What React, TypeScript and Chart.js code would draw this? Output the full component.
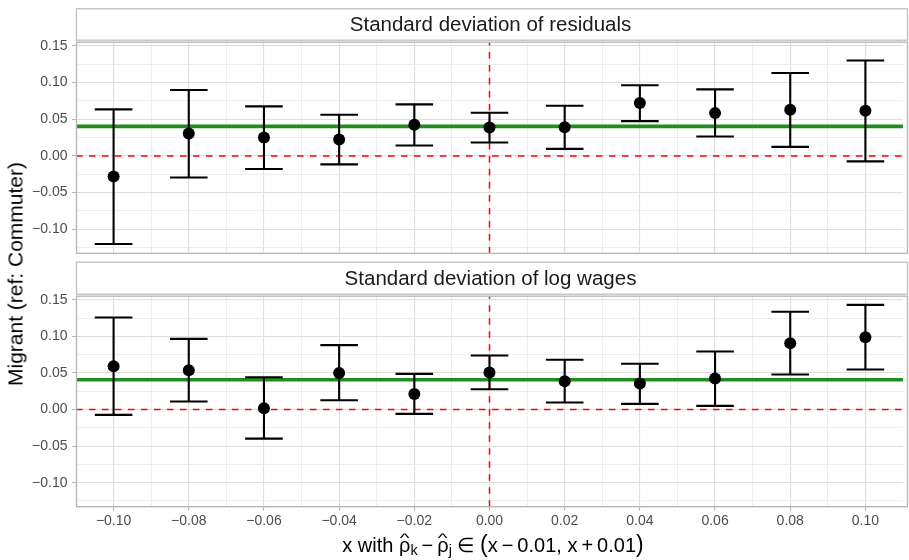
import React, { useEffect, useRef } from 'react';
import { Chart, registerables } from 'chart.js';

Chart.register(...registerables);

// ---------------- data ----------------
const xValues = [-0.10, -0.08, -0.06, -0.04, -0.02, 0.00, 0.02, 0.04, 0.06, 0.08, 0.10];

const residEst = [-0.0279, 0.0305, 0.0250, 0.0223, 0.0424, 0.0387, 0.0391, 0.0720, 0.0583, 0.0629, 0.0616];
const residLow = [-0.1200, -0.0293, -0.0178, -0.0115, 0.0141, 0.0182, 0.0096, 0.0474, 0.0264, 0.0123, -0.0074];
const residHigh = [0.0634, 0.0898, 0.0675, 0.0561, 0.0702, 0.0588, 0.0684, 0.0962, 0.0907, 0.1130, 0.1300];

const wageEst = [0.0592, 0.0538, 0.0018, 0.0501, 0.0214, 0.0506, 0.0388, 0.0356, 0.0424, 0.0907, 0.0989];
const wageLow = [-0.0073, 0.0109, -0.0397, 0.0128, -0.0059, 0.0278, 0.0096, 0.0078, 0.0050, 0.0479, 0.0547];
const wageHigh = [0.1258, 0.0966, 0.0442, 0.0880, 0.0488, 0.0739, 0.0680, 0.0625, 0.0793, 0.1336, 0.1431];

const panelTitles = ['Standard deviation of residuals', 'Standard deviation of log wages'];
const meanLines = [0.0402, 0.0408];

const yMajorTicks = [-0.10, -0.05, 0.00, 0.05, 0.10, 0.15];
const yMinorTicks = [-0.125, -0.075, -0.025, 0.025, 0.075, 0.125];
const xMajorTicks = [-0.10, -0.08, -0.06, -0.04, -0.02, 0.00, 0.02, 0.04, 0.06, 0.08, 0.10];
const xMinorTicks = [-0.09, -0.07, -0.05, -0.03, -0.01, 0.01, 0.03, 0.05, 0.07, 0.09];

const X_MIN = -0.11;
const X_MAX = 0.11;
const Y_MIN = -0.1328;
const Y_MAX = 0.1556;
const CAP_HALF = 0.005;

const FONT = '"Liberation Sans", Arial, Helvetica, sans-serif';

// ---------------- helpers ----------------
const isMajorX = (v: number) => {
  const k = Math.round(v * 100);
  return Math.abs(v * 100 - k) < 1e-6 && k % 2 === 0;
};
const isMajorY = (v: number) => {
  const k = Math.round(v * 1000);
  return Math.abs(v * 1000 - k) < 1e-6 && k % 50 === 0;
};
const fmt = (v: number) => {
  const s = Math.abs(v).toFixed(2);
  return v < -1e-9 ? '\u2212' + s : s;
};

type PanelProps = {
  est: number[];
  low: number[];
  high: number[];
  mean: number;
  title: string;
  showXAxis: boolean;
  height: number;
  stripTop: number;
  plotTop: number;
  bottomSpace: number;
};

function PanelChart(props: PanelProps) {
  const ref = useRef<HTMLCanvasElement>(null);

  useEffect(() => {
    const canvas = ref.current;
    if (!canvas) return;
    const { est, low, high, mean, title, showXAxis, stripTop, plotTop, bottomSpace } = props;
    const xAxisHeight = showXAxis ? bottomSpace : 0;
    const bottomPad = showXAxis ? 0 : bottomSpace;

    const errorBars = {
      id: 'errorBars',
      beforeDatasetDraw(chart: any, args: any) {
        if (args.index !== 3) return;
        const { ctx, chartArea, scales } = chart;
        const xs = scales.x;
        const ys = scales.y;
        ctx.save();
        ctx.beginPath();
        ctx.rect(chartArea.left, chartArea.top, chartArea.right - chartArea.left, chartArea.bottom - chartArea.top);
        ctx.clip();
        ctx.strokeStyle = '#000000';
        ctx.lineWidth = 2.1;
        ctx.lineCap = 'butt';
        xValues.forEach((xv, i) => {
          const px = xs.getPixelForValue(xv);
          const c0 = xs.getPixelForValue(xv - CAP_HALF);
          const c1 = xs.getPixelForValue(xv + CAP_HALF);
          const pl = ys.getPixelForValue(low[i]);
          const ph = ys.getPixelForValue(high[i]);
          ctx.beginPath();
          ctx.moveTo(px, pl);
          ctx.lineTo(px, ph);
          ctx.moveTo(c0, pl);
          ctx.lineTo(c1, pl);
          ctx.moveTo(c0, ph);
          ctx.lineTo(c1, ph);
          ctx.stroke();
        });
        ctx.restore();
      },
    };

    const frame = {
      id: 'frame',
      beforeDraw(chart: any) {
        const { ctx, width, height: h } = chart;
        ctx.save();
        ctx.fillStyle = '#ffffff';
        ctx.fillRect(0, 0, width, h);
        ctx.restore();
      },
      afterDraw(chart: any) {
        const { ctx, chartArea } = chart;
        const { left, right, top, bottom } = chartArea;
        ctx.save();
        // strip
        ctx.fillStyle = '#ffffff';
        ctx.fillRect(left, stripTop, right - left, top - stripTop);
        ctx.strokeStyle = '#C0C0C0';
        ctx.lineWidth = 1.3;
        ctx.strokeRect(left + 0.5, stripTop + 0.5, right - left + 4, top - stripTop - 2);
        ctx.fillStyle = '#1A1A1A';
        ctx.font = '20.5px ' + FONT;
        ctx.textAlign = 'center';
        ctx.textBaseline = 'middle';
        ctx.fillText(title, (left + right) / 2 + 1, (stripTop + top) / 2 + 0.5);
        // panel border
        ctx.strokeStyle = '#B8B8B8';
        ctx.lineWidth = 1.4;
        ctx.strokeRect(left + 0.5, top + 0.5, right - left + 4, bottom - top - 0.5);
        ctx.restore();
      },
    };

    const chart = new Chart(canvas, {
      type: 'scatter',
      data: {
        datasets: [
          {
            type: 'line',
            data: [{ x: X_MIN, y: 0 }, { x: X_MAX, y: 0 }],
            borderColor: '#FF0000',
            borderWidth: 1.5,
            borderDash: [6.5, 6.5],
            pointRadius: 0,
            order: 4,
          } as any,
          {
            type: 'line',
            data: [{ x: 0, y: Y_MIN }, { x: 0, y: Y_MAX }],
            borderColor: '#FF0000',
            borderWidth: 1.5,
            borderDash: [6.5, 6.5],
            pointRadius: 0,
            order: 3,
          } as any,
          {
            type: 'line',
            data: [{ x: X_MIN, y: mean }, { x: X_MAX, y: mean }],
            borderColor: '#228B22',
            borderWidth: 3.6,
            pointRadius: 0,
            order: 2,
          } as any,
          {
            type: 'scatter',
            data: xValues.map((x, i) => ({ x, y: est[i] })),
            backgroundColor: '#000000',
            borderColor: '#000000',
            borderWidth: 0,
            pointRadius: 6,
            order: 1,
          } as any,
        ],
      },
      options: {
        animation: false,
        responsive: false,
        maintainAspectRatio: false,
        events: [],
        layout: { padding: { top: plotTop, bottom: bottomPad, left: 0, right: 0 } },
        plugins: {
          legend: { display: false },
          tooltip: { enabled: false },
          title: { display: false },
        },
        scales: {
          x: {
            type: 'linear',
            min: X_MIN,
            max: X_MAX,
            afterBuildTicks: (s: any) => {
              s.ticks = [...xMajorTicks, ...xMinorTicks].sort((a, b) => a - b).map((v) => ({ value: v }));
            },
            afterFit: (s: any) => {
              s.height = xAxisHeight;
              s.paddingLeft = 0;
              s.paddingRight = 0;
              s.paddingTop = 0;
              s.paddingBottom = 0;
            },
            border: { display: false },
            grid: {
              color: (c: any) => (c.tick && isMajorX(c.tick.value) ? '#DEDEDE' : '#E8E8E8'),
              lineWidth: (c: any) => (c.tick && isMajorX(c.tick.value) ? 1.1 : 0.8),
              drawTicks: showXAxis,
              tickLength: 4,
              tickWidth: 1,
              tickColor: (c: any) => (c.tick && isMajorX(c.tick.value) ? '#B3B3B3' : 'rgba(0,0,0,0)'),
            },
            ticks: {
              display: showXAxis,
              autoSkip: false,
              maxRotation: 0,
              minRotation: 0,
              padding: 2,
              color: '#4D4D4D',
              font: { size: 14, family: FONT },
              callback: (v: any) => (isMajorX(Number(v)) ? fmt(Number(v)) : ''),
            },
          },
          y: {
            type: 'linear',
            min: Y_MIN,
            max: Y_MAX,
            afterBuildTicks: (s: any) => {
              s.ticks = [...yMajorTicks, ...yMinorTicks].sort((a, b) => a - b).map((v) => ({ value: v }));
            },
            afterFit: (s: any) => {
              s.width = 76;
              s.paddingTop = 0;
              s.paddingBottom = 0;
              s.paddingLeft = 0;
              s.paddingRight = 0;
            },
            border: { display: false },
            grid: {
              color: (c: any) => (c.tick && isMajorY(c.tick.value) ? '#DEDEDE' : '#E8E8E8'),
              lineWidth: (c: any) => (c.tick && isMajorY(c.tick.value) ? 1.1 : 0.8),
              drawTicks: true,
              tickLength: 4,
              tickWidth: 1,
              tickColor: (c: any) => (c.tick && isMajorY(c.tick.value) ? '#B3B3B3' : 'rgba(0,0,0,0)'),
            },
            ticks: {
              autoSkip: false,
              padding: 4.5,
              color: '#4D4D4D',
              font: { size: 14, family: FONT },
              callback: (v: any) => (isMajorY(Number(v)) ? fmt(Number(v)) : ''),
            },
          },
        },
      } as any,
      plugins: [errorBars, frame],
    } as any);

    return () => chart.destroy();
  }, []);

  return (
    <canvas
      ref={ref}
      width={909}
      height={props.height}
      style={{ display: 'block', width: 909, height: props.height }}
    />
  );
}

const Hat = ({ children }: { children: React.ReactNode }) => (
  <span style={{ position: 'relative', display: 'inline-block', lineHeight: 1 }}>
    {children}
    <span
      style={{
        position: 'absolute',
        left: 0,
        right: 0,
        top: '-0.38em',
        textAlign: 'center',
        fontSize: '0.9em',
        transform: 'scale(1.15, 0.75)',
      }}
    >
      ^
    </span>
  </span>
);

const Sub = ({ children }: { children: React.ReactNode }) => (
  <span style={{ fontSize: '0.72em', verticalAlign: '-0.22em', lineHeight: 0 }}>{children}</span>
);

export default function App() {
  return (
    <div
      style={{
        position: 'fixed',
        left: 0,
        top: 0,
        width: 909,
        height: 560,
        overflow: 'hidden',
        background: '#ffffff',
        fontFamily: FONT,
      }}
    >
      <div style={{ position: 'absolute', left: 0, top: 0 }}>
        <PanelChart
          est={residEst}
          low={residLow}
          high={residHigh}
          mean={meanLines[0]}
          title={panelTitles[0]}
          showXAxis={false}
          height={260}
          stripTop={8.3}
          plotTop={41.7}
          bottomSpace={6.6}
        />
      </div>
      <div style={{ position: 'absolute', left: 0, top: 256 }}>
        <PanelChart
          est={wageEst}
          low={wageLow}
          high={wageHigh}
          mean={meanLines[1]}
          title={panelTitles[1]}
          showXAxis={true}
          height={304}
          stripTop={5.7}
          plotTop={39.7}
          bottomSpace={53.3}
        />
      </div>
      <div
        style={{
          position: 'absolute',
          left: 15.4,
          top: 274,
          transform: 'translate(-50%, -50%) rotate(-90deg)',
          fontSize: 21,
          lineHeight: '21px',
          whiteSpace: 'nowrap',
          color: '#000000',
        }}
      >
        Migrant (ref: Commuter)
      </div>
      <div
        style={{
          position: 'absolute',
          left: 76,
          width: 834,
          top: 533,
          textAlign: 'center',
          fontSize: 20,
          lineHeight: '24px',
          whiteSpace: 'nowrap',
          color: '#000000',
        }}
      >
        x with <Hat>ρ</Hat>
        <Sub>k</Sub>
        {'\u2009\u2212\u2009'}
        <Hat>ρ</Hat>
        <Sub>j</Sub>
        {' \u2208 '}
        <span style={{ fontSize: '1.15em', lineHeight: 0 }}>(</span>x{'\u2009\u2212\u2009'}0.01, x{'\u2009+\u2009'}0.01
        <span style={{ fontSize: '1.15em', lineHeight: 0 }}>)</span>
      </div>
    </div>
  );
}
